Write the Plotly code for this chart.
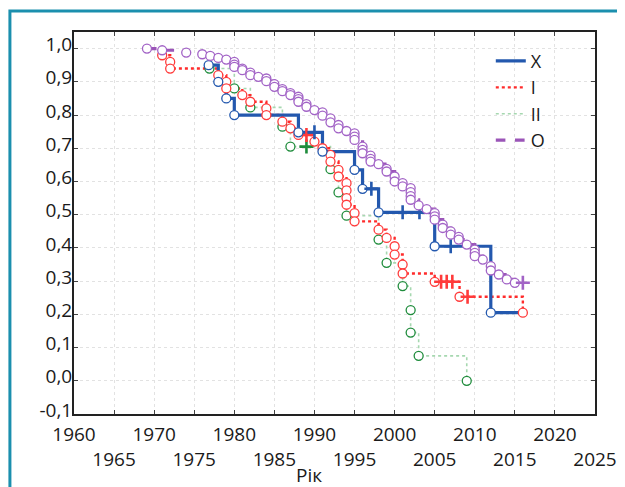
import plotly.graph_objects as go

# ---------------- data ----------------
x_years = [1976.8, 1978.0, 1979.0, 1980.0, 1988.0, 1990.0, 1991.0, 1995.0, 1996.0, 1997.1,
           1998.0, 2001.0, 2003.1, 2005.0, 2007.0, 2012.0, 2016.0]
x_surv = [0.95, 0.90, 0.85, 0.80, 0.748, 0.748, 0.69, 0.635, 0.578, 0.578,
          0.507, 0.507, 0.507, 0.405, 0.405, 0.205, 0.205]
x_mark = ["o", "o", "o", "o", "o", "+", "o", "o", "o", "+",
          "o", "+", "+", "o", "+", "o", ""]

i_years = [1971.0, 1972.0, 1972.0, 1978.0, 1979.0, 1979.0, 1981.0, 1982.0, 1984.0, 1984.0,
           1986.0, 1987.0, 1988.0, 1989.0, 1990.0, 1991.0, 1992.0, 1992.0, 1993.0, 1993.0,
           1994.0, 1994.0, 1994.0, 1994.0, 1995.0, 1995.0, 1998.0, 1999.0, 2000.0, 2000.0,
           2001.0, 2001.0, 2005.0, 2005.8, 2006.5, 2007.2, 2008.1, 2009.1, 2016.0]
i_surv = [0.98, 0.96, 0.94, 0.92, 0.90, 0.88, 0.86, 0.84, 0.82, 0.80,
          0.78, 0.76, 0.74, 0.74, 0.72, 0.70, 0.68, 0.66, 0.635, 0.615,
          0.595, 0.573, 0.55, 0.53, 0.505, 0.48, 0.455, 0.43, 0.405, 0.38,
          0.35, 0.323, 0.298, 0.298, 0.298, 0.298, 0.253, 0.253, 0.205]
i_mark = ["o", "o", "o", "o", "o", "o", "o", "o", "o", "o",
          "o", "o", "o", "+", "o", "o", "o", "o", "o", "o",
          "o", "o", "o", "o", "o", "o", "o", "o", "o", "o",
          "o", "o", "o", "+", "+", "+", "o", "+", "o"]

ii_years = [1976.9, 1980.0, 1982.0, 1986.0, 1987.0, 1989.0, 1992.0, 1993.0, 1994.0, 1998.0,
            1999.0, 2001.0, 2002.0, 2002.0, 2003.0, 2009.0]
ii_surv = [0.94, 0.88, 0.823, 0.765, 0.705, 0.705, 0.637, 0.567, 0.497, 0.425,
           0.355, 0.285, 0.213, 0.145, 0.075, 0.0]
ii_mark = ["o", "o", "o", "o", "o", "+", "o", "o", "o", "o",
           "o", "o", "o", "o", "o", "o"]

o_years = [1969.1, 1971.0, 1974.0, 1976.0, 1977.0, 1978.0, 1979.0, 1980.0, 1980.0, 1980.0,
           1981.0, 1981.0, 1982.0, 1982.0, 1983.0, 1984.0, 1984.0, 1985.0, 1985.0, 1986.0,
           1986.0, 1987.0, 1987.0, 1988.0, 1988.0, 1988.0, 1989.0, 1989.0, 1990.0, 1991.0,
           1991.0, 1992.0, 1992.0, 1993.0, 1993.0, 1994.0, 1995.0, 1995.0, 1995.0, 1996.0,
           1996.0, 1996.0, 1997.0, 1997.0, 1997.0, 1998.0, 1999.0, 1999.0, 2000.0, 2000.0,
           2001.0, 2001.0, 2002.0, 2002.0, 2002.0, 2002.0, 2003.0, 2004.0, 2005.0, 2005.0,
           2005.0, 2006.0, 2006.0, 2007.0, 2007.0, 2008.0, 2008.0, 2009.0, 2010.0, 2010.0,
           2010.0, 2011.0, 2012.0, 2012.0, 2013.0, 2014.0, 2015.0, 2016.0]
o_surv = [1.000, 0.995, 0.988, 0.983, 0.978, 0.972, 0.967, 0.960, 0.952, 0.945,
          0.940, 0.935, 0.928, 0.920, 0.915, 0.910, 0.902, 0.893, 0.885, 0.878,
          0.872, 0.866, 0.860, 0.855, 0.848, 0.840, 0.833, 0.825, 0.815, 0.808,
          0.798, 0.790, 0.778, 0.770, 0.760, 0.752, 0.745, 0.735, 0.725, 0.705,
          0.695, 0.685, 0.678, 0.668, 0.660, 0.652, 0.638, 0.630, 0.615, 0.600,
          0.595, 0.585, 0.580, 0.568, 0.556, 0.545, 0.528, 0.517, 0.505, 0.495,
          0.485, 0.470, 0.460, 0.450, 0.440, 0.433, 0.425, 0.410, 0.395, 0.385,
          0.375, 0.365, 0.345, 0.332, 0.320, 0.305, 0.295, 0.295]
o_mark = ["o"] * 77 + ["+"]

y_tickvals = [-0.1, 0.0, 0.1, 0.2, 0.3, 0.4, 0.5, 0.6, 0.7, 0.8, 0.9, 1.0]
y_ticktext = ["-0,1", "0,0", "0,1", "0,2", "0,3", "0,4", "0,5", "0,6", "0,7", "0,8", "0,9", "1,0"]
x_tickvals = [1960, 1965, 1970, 1975, 1980, 1985, 1990, 1995, 2000, 2005, 2010, 2015, 2020, 2025]
x_ticktext = ["1960", "<br>1965", "1970", "<br>1975", "1980", "<br>1985", "1990", "<br>1995",
              "2000", "<br>2005", "2010", "<br>2015", "2020", "<br>2025"]

# ---------------- figure ----------------
FONT = "Open Sans, Noto Sans, DejaVu Sans, sans-serif"
series = [
    # name, years, surv, marks, line colour, dash, width, marker colour, rank
    ("II", ii_years, ii_surv, ii_mark, "#a6d8b0", "dot", 1.6, "#1f8c3c", 3),
    ("I", i_years, i_surv, i_mark, "#ff2b2b", "dot", 2.4, "#ff3b3b", 2),
    ("X", x_years, x_surv, x_mark, "#2358ae", "solid", 3.2, "#2358ae", 1),
    ("O", o_years, o_surv, o_mark, "#9b55b8", "dash", 3.2, "#a263c6", 4),
]

fig = go.Figure()
for name, yrs, sv, mk, lc, dash, lw, mc, rank in series:
    fig.add_trace(go.Scatter(x=yrs, y=sv, mode="lines", name=name, legendrank=rank,
                             line=dict(color=lc, dash=dash, width=lw, shape="hv"),
                             hoverinfo="skip"))
for name, yrs, sv, mk, lc, dash, lw, mc, rank in series:
    cx = [a for a, m in zip(yrs, mk) if m == "o"]
    cy = [b for b, m in zip(sv, mk) if m == "o"]
    px = [a for a, m in zip(yrs, mk) if m == "+"]
    py = [b for b, m in zip(sv, mk) if m == "+"]
    fig.add_trace(go.Scatter(x=cx, y=cy, mode="markers", showlegend=False,
                             marker=dict(symbol="circle", size=9, color="white",
                                         line=dict(color=mc, width=1.3))))
    fig.add_trace(go.Scatter(x=px, y=py, mode="markers", showlegend=False,
                             marker=dict(symbol="cross-thin", size=10, color=mc,
                                         line=dict(color=mc, width=2.6))))

axis_common = dict(showline=True, linecolor="#222222", linewidth=2, mirror="ticks",
                   ticks="inside", ticklen=4, tickcolor="#444444", showgrid=True,
                   gridcolor="#e2e2e2", griddash="dot", gridwidth=1, zeroline=False,
                   automargin=False, tickangle=0,
                   tickfont=dict(family=FONT, size=19, color="#1a1a1a"))

fig.update_xaxes(range=[1960, 2025], tickmode="array", tickvals=x_tickvals,
                 ticktext=x_ticktext, ticklabelstandoff=2, **axis_common)
fig.update_yaxes(range=[-0.1, 1.05], tickmode="array", tickvals=y_tickvals,
                 ticktext=y_ticktext, ticklabelstandoff=-4, ticklabelshift=-4, **axis_common)

fig.add_annotation(text="Рік", xref="paper", yref="paper", x=0.452, y=-0.16,
                   xanchor="center", yanchor="middle", showarrow=False,
                   font=dict(family=FONT, size=19, color="#1a1a1a"))

# teal frame around the figure
fig.add_shape(type="rect", xref="paper", yref="paper", x0=-0.123, x1=1.3, y0=-0.4, y1=1.055,
              line=dict(color="#1b8fae", width=3), fillcolor="rgba(0,0,0,0)", layer="above")

fig.update_layout(
    width=625, height=487, autosize=False,
    margin=dict(l=66, r=38, t=24, b=81),
    paper_bgcolor="white", plot_bgcolor="white",
    font=dict(family=FONT, color="#1a1a1a"),
    showlegend=True,
    legend=dict(x=0.80, y=0.82, xanchor="left", yanchor="middle",
                bgcolor="rgba(0,0,0,0)", font=dict(family=FONT, size=18, color="#1a1a1a"),
                itemwidth=30),
)

fig.write_html("out.html")
